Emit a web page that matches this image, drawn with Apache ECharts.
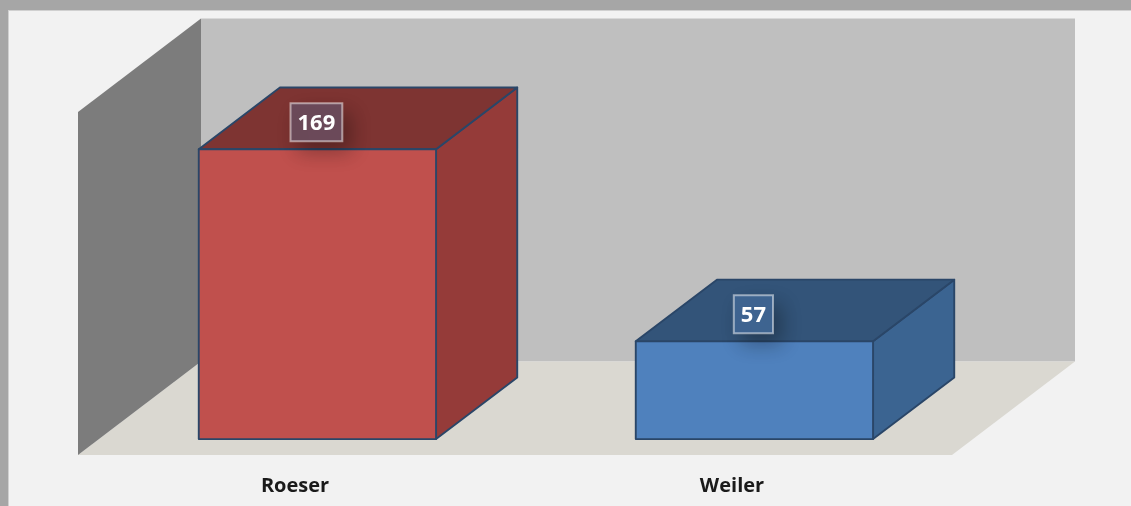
<!DOCTYPE html>
<html>
<head>
<meta charset="utf-8">
<style>
  html, body { margin: 0; padding: 0; background: #a6a6a6; overflow: hidden; }
  #panel { position: absolute; left: 8px; top: 10px; right: 0; bottom: 0; background: #f2f2f2; border-left: 1px solid #d0d0d0; border-top: 1px solid #d0d0d0; }
  #chart { position: absolute; left: 0; top: 0; width: 1131px; height: 506px; }
</style>
</head>
<body>
<div id="panel"></div>
<div id="chart"></div>
<script src="https://cdn.jsdelivr.net/npm/echarts@6/dist/echarts.min.js"></script>
<script>
const categories = ['Roeser', 'Weiler']
const values = [169, 57]

// front, top, side face colours for each bar
const frontColors = ['#c0504d', '#4f81bd']
const topColors = ['#7e3432', '#335479']
const sideColors = ['#953b39', '#3b6491']
const labelColors = ['#6c4a5a', '#3f6592']
const edgeColor = '#2a4668'

// how far the floor runs back, in pixels
const depthX = 123
const depthY = -93.5
const barNear = 0.17
const barFar = 0.83
const barWidthRate = 0.543

const myChart = echarts.init(document.getElementById('chart'))

function poly(points, fill, stroke) {
  return {
    type: 'polygon',
    shape: { points: points },
    style: { fill: fill, stroke: stroke || null, lineWidth: stroke ? 1.9 : 0, lineJoin: 'round' }
  }
}

function back(p, d) {
  return [p[0] + depthX * d, p[1] + depthY * d]
}

function renderWalls(params, api) {
  const g = params.coordSys
  const fl = [g.x, g.y + g.height]
  const fr = [g.x + g.width, g.y + g.height]
  const tl = [g.x, g.y]
  const tr = [g.x + g.width, g.y]
  return {
    type: 'group',
    children: [
      poly([back(tl, 1), back(tr, 1), back(fr, 1), back(fl, 1)], '#bfbfbf'),
      poly([fl, fr, back(fr, 1), back(fl, 1)], '#dad8d1'),
      poly([tl, back(tl, 1), back(fl, 1), fl], '#7c7c7c')
    ]
  }
}

function renderBar(params, api) {
  const i = api.value(0)
  const base = api.coord([i, 0])
  const top = api.coord([i, api.value(1)])
  const half = api.size([1, 0])[0] * barWidthRate / 2
  const fbl = back([base[0] - half, base[1]], barNear)
  const fbr = back([base[0] + half, base[1]], barNear)
  const ftl = back([top[0] - half, top[1]], barNear)
  const ftr = back([top[0] + half, top[1]], barNear)
  const d = barFar - barNear
  const text = String(api.value(1))
  const boxW = text.length * 12.6 + 14
  const boxH = 38
  const cx = ftl[0] + half - 1
  const cy = ftl[1] - 27
  return {
    type: 'group',
    children: [
      poly([ftr, fbr, back(fbr, d), back(ftr, d)], sideColors[i], edgeColor),
      poly([ftl, ftr, back(ftr, d), back(ftl, d)], topColors[i], edgeColor),
      poly([ftl, ftr, fbr, fbl], frontColors[i], edgeColor),
      {
        type: 'rect',
        shape: { x: cx - boxW / 2, y: cy - boxH / 2, width: boxW, height: boxH },
        style: {
          fill: labelColors[i],
          stroke: 'rgba(255,255,255,0.5)',
          lineWidth: 2,
          shadowColor: 'rgba(0,0,0,0.3)',
          shadowBlur: 20,
          shadowOffsetX: 8,
          shadowOffsetY: 10
        }
      },
      {
        type: 'text',
        style: {
          x: cx,
          y: cy + 1,
          text: text,
          fill: '#fff',
          font: 'bold 22px "Open Sans"',
          align: 'center',
          verticalAlign: 'middle'
        }
      }
    ]
  }
}

myChart.setOption({
  animation: false,
  grid: { left: 78, right: 179, top: 112, bottom: 51 },
  xAxis: {
    type: 'category',
    data: categories,
    axisLine: { show: false },
    axisTick: { show: false },
    axisLabel: { margin: 21, padding: [0, 3, 0, 0], color: '#1a1a1a', fontFamily: 'Open Sans', fontWeight: 'bold', fontSize: 20 }
  },
  yAxis: {
    type: 'value',
    min: 0,
    max: 200,
    show: false
  },
  series: [
    {
      name: 'walls',
      type: 'custom',
      renderItem: renderWalls,
      clip: false,
      silent: true,
      data: [[0, 0]],
      encode: { x: 0, y: 1 }
    },
    {
      name: 'bars',
      type: 'custom',
      renderItem: renderBar,
      clip: false,
      data: values.map((v, i) => [i, v]),
      encode: { x: 0, y: 1 }
    }
  ]
})
</script>
</body>
</html>
